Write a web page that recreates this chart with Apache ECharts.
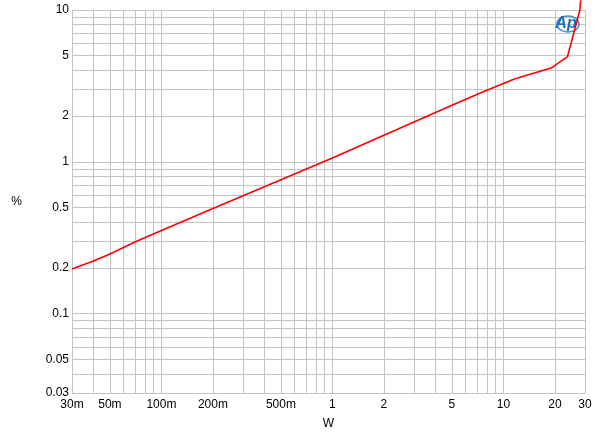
<!DOCTYPE html>
<html>
<head>
<meta charset="utf-8">
<script src="https://cdn.jsdelivr.net/npm/echarts@6/dist/echarts.min.js"></script>
<style>
html,body{margin:0;padding:0;background:#fff;}
#chart{width:600px;height:437px;}
</style>
</head>
<body>
<div id="chart"></div>
<script>
// Data (power in W, THD+N in %)
var powerW = [0.03, 0.04, 0.05, 0.07, 0.1, 0.2, 0.5, 1, 2, 3, 5, 7.26, 11.6, 19.2, 23.7, 28, 28.3];
var thdPct = [0.197, 0.222, 0.247, 0.296, 0.353, 0.492, 0.761, 1.06, 1.495, 1.83, 2.36, 2.83, 3.51, 4.17, 4.93, 10, 11.6];

// Axis ticks / labels
var xLabelValues = [0.03, 0.05, 0.1, 0.2, 0.5, 1, 2, 5, 10, 20, 30];
var xLabelTexts = ['30m', '50m', '100m', '200m', '500m', '1', '2', '5', '10', '20', '30'];
var yLabelValues = [0.03, 0.05, 0.1, 0.2, 0.5, 1, 2, 5, 10];
var yLabelTexts = ['0.03', '0.05', '0.1', '0.2', '0.5', '1', '2', '5', '10'];
var xGridValues = [0.03, 0.04, 0.05, 0.06, 0.07, 0.08, 0.09, 0.1, 0.2, 0.3, 0.4, 0.5, 0.6, 0.7, 0.8, 0.9, 1, 2, 3, 4, 5, 6, 7, 8, 9, 10, 20, 30];
var yGridValues = [0.03, 0.04, 0.05, 0.06, 0.07, 0.08, 0.09, 0.1, 0.2, 0.3, 0.4, 0.5, 0.6, 0.7, 0.8, 0.9, 1, 2, 3, 4, 5, 6, 7, 8, 9, 10];

function labelFor(values, texts) {
  return function (v) {
    for (var i = 0; i < values.length; i++) {
      if (Math.abs(values[i] - v) / values[i] < 1e-6) return texts[i];
    }
    return '';
  };
}

var gridColor = '#c4c4c4';
var font = 'Liberation Sans, Arial, sans-serif';

var chart = echarts.init(document.getElementById('chart'), null, {renderer: 'canvas'});
var data = powerW.map(function (p, i) { return [p, thdPct[i]]; });

chart.setOption({
  animation: false,
  backgroundColor: '#ffffff',
  grid: {left: 72, right: 15, top: 10, bottom: 44, containLabel: false},
  xAxis: {
    type: 'log',
    logBase: 10,
    min: 0.03,
    max: 30,
    name: 'W',
    nameLocation: 'middle',
    nameGap: 25,
    nameTextStyle: {color: '#000', fontSize: 12, fontFamily: font},
    axisLine: {show: true, lineStyle: {color: gridColor, width: 1}},
    axisTick: {show: false, customValues: xGridValues},
    splitLine: {show: true, lineStyle: {color: gridColor, width: 1}},
    minorSplitLine: {show: false},
    axisLabel: {
      customValues: xLabelValues,
      formatter: labelFor(xLabelValues, xLabelTexts),
      color: '#000', fontSize: 12, fontFamily: font, margin: 6
    }
  },
  yAxis: {
    type: 'log',
    logBase: 10,
    min: 0.03,
    max: 10,
    name: '%',
    nameLocation: 'middle',
    nameRotate: 0,
    nameGap: 50,
    nameTextStyle: {color: '#000', fontSize: 12, fontFamily: font},
    axisLine: {show: true, lineStyle: {color: gridColor, width: 1}},
    axisTick: {show: false, customValues: yGridValues},
    splitLine: {show: true, lineStyle: {color: gridColor, width: 1}},
    axisLabel: {
      customValues: yLabelValues,
      formatter: labelFor(yLabelValues, yLabelTexts),
      color: '#000', fontSize: 12, fontFamily: font, margin: 3
    }
  },
  graphic: [
    {type: 'ellipse', shape: {cx: 568, cy: 24, rx: 11, ry: 8}, style: {fill: 'none', stroke: '#3b8fd6', lineWidth: 1.5}, z: 50},
    {type: 'text', x: 566, y: 24, style: {text: 'Ap', fill: '#1f6fb8', font: 'italic bold 16px Liberation Sans, Arial, sans-serif', textAlign: 'center', textVerticalAlign: 'middle'}, z: 51}
  ],
  series: [{
    type: 'line',
    data: data,
    showSymbol: false,
    symbol: 'none',
    clip: false,
    smooth: false,
    lineStyle: {color: '#ff0000', width: 1.6},
    z: 100
  }]
});
</script>
</body>
</html>
